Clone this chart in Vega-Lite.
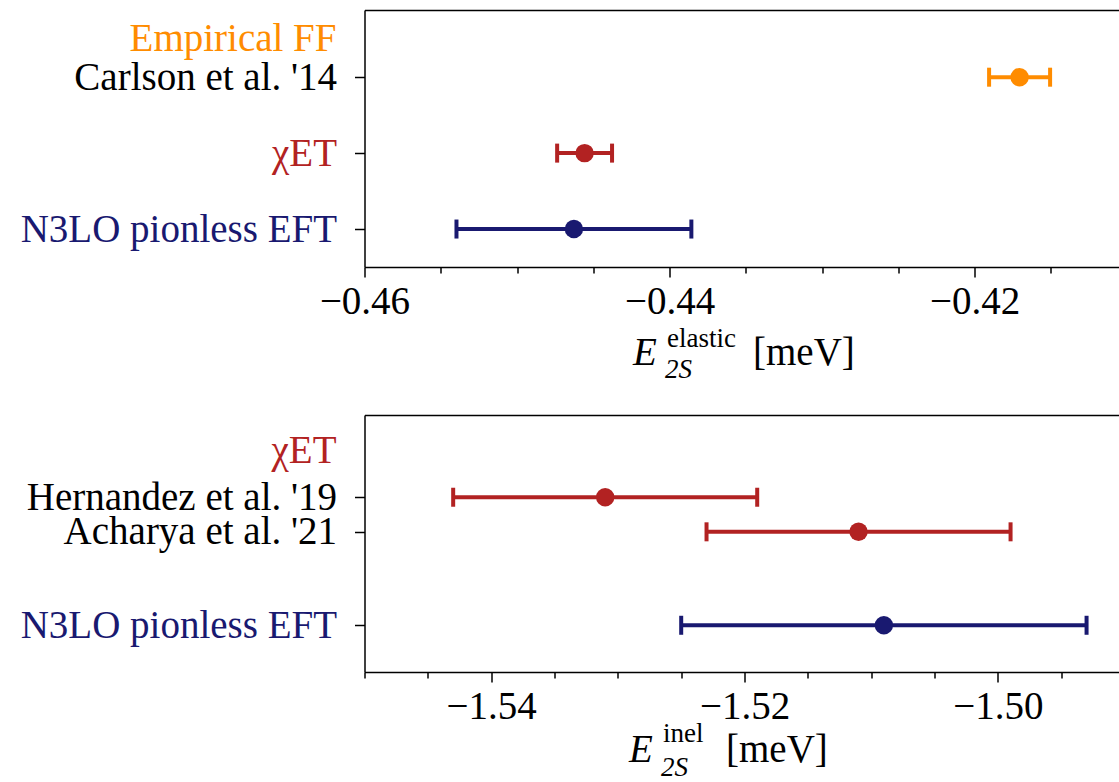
{
  "$schema": "https://vega.github.io/schema/vega-lite/v6.json",
  "background": "white",
  "padding": {"left": 19.5, "top": 10, "right": 0, "bottom": 0},
  "autosize": {"type": "pad"},
  "spacing": 148,
  "bounds": "flush",
  "config": {
    "font": "Liberation Serif",
    "view": {"stroke": null},
    "axis": {
      "labelFont": "Liberation Serif",
      "titleFont": "Liberation Serif",
      "labelColor": "black",
      "titleColor": "black",
      "tickColor": "black",
      "domainColor": "black",
      "grid": false,
      "labelOverlap": false,
      "labelFlush": false,
      "labelLimit": 0,
      "labelFontSize": 39,
      "titleFontSize": 39,
      "titleFontWeight": "normal",
      "tickWidth": 1.5,
      "domainWidth": 1.5
    }
  },
  "datasets": {
    "elastic": [
      {"name": "Carlson et al. '14", "group": "Empirical", "pos": 2, "v": -0.41705, "lo": -0.41905, "hi": -0.41505},
      {"name": "χET", "group": "chiET", "pos": 1, "v": -0.44557, "lo": -0.44737, "hi": -0.44377},
      {"name": "N3LO pionless EFT", "group": "pionless", "pos": 0, "v": -0.44627, "lo": -0.45397, "hi": -0.43857}
    ],
    "elasticLabels": [
      {"label": "Empirical FF", "group": "Empirical", "pos": 2.5, "v": -0.46}
    ],
    "inelastic": [
      {"name": "Hernandez et al. '19", "group": "chiET", "pos": 1.37, "v": -1.531, "lo": -1.543, "hi": -1.519},
      {"name": "Acharya et al. '21", "group": "chiET", "pos": 1, "v": -1.511, "lo": -1.523, "hi": -1.499},
      {"name": "N3LO pionless EFT", "group": "pionless", "pos": 0, "v": -1.509, "lo": -1.525, "hi": -1.493}
    ],
    "inelLabels": [
      {"label": "χET", "group": "chiET", "pos": 1.86, "v": -1.55}
    ]
  },
  "vconcat": [
    {
      "width": 755,
      "height": 257,
      "data": {"name": "elastic"},
      "resolve": {"axis": {"x": "independent"}},
      "layer": [
        {
          "mark": {"type": "rule", "strokeWidth": 4, "opacity": 1},
          "encoding": {
            "x": {"field": "lo", "type": "quantitative",
              "scale": {"domain": [-0.46, -0.4105], "nice": false, "zero": false},
              "axis": {"orient": "bottom", "values": [-0.46, -0.44, -0.42], "format": ".2f", "tickSize": 10, "labelPadding": 5, "domain": true,
                "title": "[meV]", "titleX": 388, "titleY": 97, "titleAlign": "left", "titleBaseline": "alphabetic"}},
            "x2": {"field": "hi"},
            "y": {"field": "pos", "type": "quantitative",
              "scale": {"domain": [-0.5, 2.885], "nice": false, "zero": false},
              "axis": {"values": [0, 1, 2], "tickSize": 10, "labelPadding": 18, "domain": true, "title": null,
                "labelExpr": "datum.value == 2 ? \"Carlson et al. '14\" : datum.value == 1 ? 'χET' : 'N3LO pionless EFT'",
                "labelColor": {"condition": [{"test": "datum.value == 1", "value": "#b22222"}, {"test": "datum.value == 0", "value": "#191970"}], "value": "black"}}},
            "color": {"field": "group", "type": "nominal", "legend": null,
              "scale": {"domain": ["Empirical", "chiET", "pionless"], "range": ["#ff8c00", "#b22222", "#191970"]}}
          }
        },
        {
          "mark": {"type": "tick", "orient": "vertical", "size": 19, "thickness": 4, "opacity": 1},
          "encoding": {
            "x": {"field": "lo", "type": "quantitative",
              "scale": {"domain": [-0.46, -0.4105], "nice": false, "zero": false},
              "axis": {"orient": "bottom", "values": [-0.455, -0.45, -0.445, -0.435, -0.43, -0.425, -0.415], "labels": false, "tickSize": 6, "domain": false,
                "title": "E", "titleFontStyle": "italic", "titleX": 268, "titleY": 97, "titleAlign": "left", "titleBaseline": "alphabetic"}},
            "y": {"field": "pos", "type": "quantitative"},
            "color": {"field": "group", "type": "nominal", "legend": null}
          }
        },
        {
          "mark": {"type": "tick", "orient": "vertical", "size": 19, "thickness": 4, "opacity": 1},
          "encoding": {
            "x": {"field": "hi", "type": "quantitative",
              "scale": {"domain": [-0.46, -0.4105], "nice": false, "zero": false},
              "axis": {"orient": "bottom", "labels": false, "ticks": false, "domain": false,
                "title": "elastic", "titleFontSize": 27, "titleX": 302, "titleY": 79, "titleAlign": "left", "titleBaseline": "alphabetic"}},
            "y": {"field": "pos", "type": "quantitative"},
            "color": {"field": "group", "type": "nominal", "legend": null}
          }
        },
        {
          "mark": {"type": "point", "filled": true, "opacity": 1, "size": 340},
          "encoding": {
            "x": {"field": "v", "type": "quantitative",
              "scale": {"domain": [-0.46, -0.4105], "nice": false, "zero": false},
              "axis": {"orient": "bottom", "labels": false, "ticks": false, "domain": false,
                "title": "2S", "titleFontSize": 27, "titleFontStyle": "italic", "titleX": 300, "titleY": 110, "titleAlign": "left", "titleBaseline": "alphabetic"}},
            "y": {"field": "pos", "type": "quantitative"},
            "color": {"field": "group", "type": "nominal", "legend": null}
          }
        },
        {
          "data": {"name": "elasticLabels"},
          "mark": {"type": "text", "align": "right", "baseline": "middle", "dx": -28, "font": "Liberation Serif", "fontSize": 39},
          "encoding": {
            "x": {"field": "v", "type": "quantitative",
              "scale": {"domain": [-0.46, -0.4105], "nice": false, "zero": false},
              "axis": {"orient": "top", "labels": false, "ticks": false, "domain": true, "title": null}},
            "y": {"field": "pos", "type": "quantitative"},
            "text": {"field": "label"},
            "color": {"field": "group", "type": "nominal", "legend": null}
          }
        }
      ]
    },
    {
      "width": 755,
      "height": 257,
      "data": {"name": "inelastic"},
      "resolve": {"axis": {"x": "independent"}},
      "layer": [
        {
          "mark": {"type": "rule", "strokeWidth": 4, "opacity": 1},
          "encoding": {
            "x": {"field": "lo", "type": "quantitative",
              "scale": {"domain": [-1.55, -1.4904], "nice": false, "zero": false},
              "axis": {"orient": "bottom", "values": [-1.54, -1.52, -1.5], "format": ".2f", "tickSize": 10, "labelPadding": 5, "domain": true,
                "title": "[meV]", "titleX": 361, "titleY": 89, "titleAlign": "left", "titleBaseline": "alphabetic"}},
            "x2": {"field": "hi"},
            "y": {"field": "pos", "type": "quantitative",
              "scale": {"domain": [-0.5, 2.25], "nice": false, "zero": false},
              "axis": {"values": [0, 1, 1.37], "tickSize": 10, "labelPadding": 18, "domain": true, "title": null,
                "labelExpr": "datum.value == 0 ? 'N3LO pionless EFT' : datum.value == 1 ? \"Acharya et al. '21\" : \"Hernandez et al. '19\"",
                "labelColor": {"condition": {"test": "datum.value == 0", "value": "#191970"}, "value": "black"}}},
            "color": {"field": "group", "type": "nominal", "legend": null,
              "scale": {"domain": ["Empirical", "chiET", "pionless"], "range": ["#ff8c00", "#b22222", "#191970"]}}
          }
        },
        {
          "mark": {"type": "tick", "orient": "vertical", "size": 19, "thickness": 4, "opacity": 1},
          "encoding": {
            "x": {"field": "lo", "type": "quantitative",
              "scale": {"domain": [-1.55, -1.4904], "nice": false, "zero": false},
              "axis": {"orient": "bottom", "values": [-1.55, -1.545, -1.535, -1.53, -1.525, -1.515, -1.51, -1.505, -1.495], "labels": false, "tickSize": 6, "domain": false,
                "title": "E", "titleFontStyle": "italic", "titleX": 264, "titleY": 89, "titleAlign": "left", "titleBaseline": "alphabetic"}},
            "y": {"field": "pos", "type": "quantitative"},
            "color": {"field": "group", "type": "nominal", "legend": null}
          }
        },
        {
          "mark": {"type": "tick", "orient": "vertical", "size": 19, "thickness": 4, "opacity": 1},
          "encoding": {
            "x": {"field": "hi", "type": "quantitative",
              "scale": {"domain": [-1.55, -1.4904], "nice": false, "zero": false},
              "axis": {"orient": "bottom", "labels": false, "ticks": false, "domain": false,
                "title": "inel", "titleFontSize": 27, "titleX": 298, "titleY": 69, "titleAlign": "left", "titleBaseline": "alphabetic"}},
            "y": {"field": "pos", "type": "quantitative"},
            "color": {"field": "group", "type": "nominal", "legend": null}
          }
        },
        {
          "mark": {"type": "point", "filled": true, "opacity": 1, "size": 340},
          "encoding": {
            "x": {"field": "v", "type": "quantitative",
              "scale": {"domain": [-1.55, -1.4904], "nice": false, "zero": false},
              "axis": {"orient": "bottom", "labels": false, "ticks": false, "domain": false,
                "title": "2S", "titleFontSize": 27, "titleFontStyle": "italic", "titleX": 296, "titleY": 103, "titleAlign": "left", "titleBaseline": "alphabetic"}},
            "y": {"field": "pos", "type": "quantitative"},
            "color": {"field": "group", "type": "nominal", "legend": null}
          }
        },
        {
          "data": {"name": "inelLabels"},
          "mark": {"type": "text", "align": "right", "baseline": "middle", "dx": -28, "font": "Liberation Serif", "fontSize": 39},
          "encoding": {
            "x": {"field": "v", "type": "quantitative",
              "scale": {"domain": [-1.55, -1.4904], "nice": false, "zero": false},
              "axis": {"orient": "top", "labels": false, "ticks": false, "domain": true, "title": null}},
            "y": {"field": "pos", "type": "quantitative"},
            "text": {"field": "label"},
            "color": {"field": "group", "type": "nominal", "legend": null}
          }
        }
      ]
    }
  ]
}
